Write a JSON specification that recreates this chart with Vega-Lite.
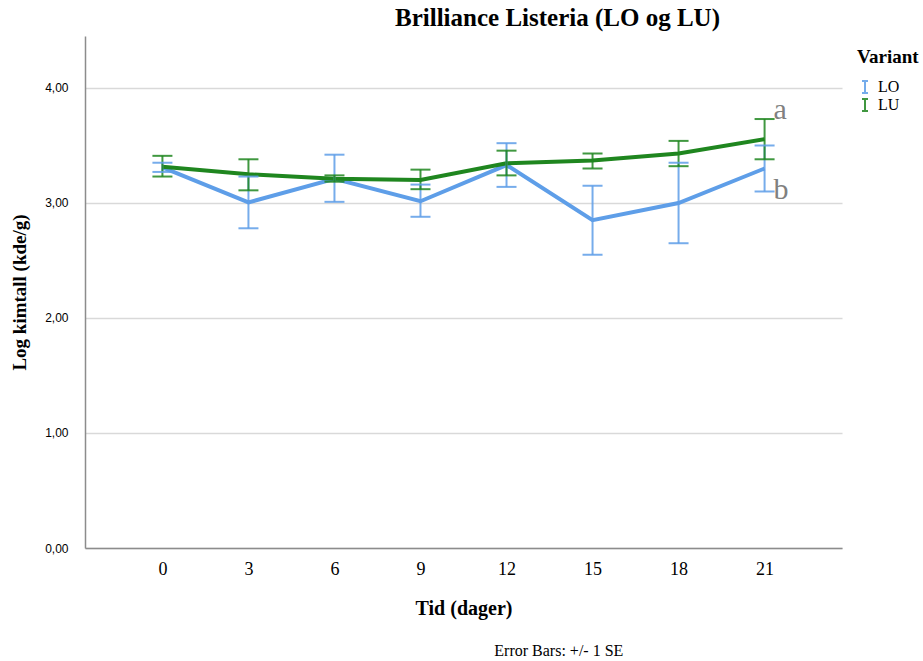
{
  "$schema": "https://vega.github.io/schema/vega-lite/v6.json",
  "background": "white",
  "padding": {"left": 10, "top": 6, "right": 0, "bottom": 0},
  "config": {
    "view": {"stroke": null},
    "font": "Liberation Serif",
    "title": {"font": "Liberation Serif"}
  },
  "title": {"text": "Error Bars: +/- 1 SE", "orient": "bottom", "anchor": "middle", "fontSize": 16, "fontWeight": "normal", "color": "#000000", "offset": 25, "dx": 88},
  "datasets": {
    "stats": [
      {"day": 0, "variant": "LO", "mean": 3.31, "lo": 3.27, "hi": 3.35, "sig": ""},
      {"day": 3, "variant": "LO", "mean": 3.005, "lo": 2.78, "hi": 3.23, "sig": ""},
      {"day": 6, "variant": "LO", "mean": 3.21, "lo": 3.01, "hi": 3.42, "sig": ""},
      {"day": 9, "variant": "LO", "mean": 3.015, "lo": 2.88, "hi": 3.16, "sig": ""},
      {"day": 12, "variant": "LO", "mean": 3.33, "lo": 3.14, "hi": 3.52, "sig": ""},
      {"day": 15, "variant": "LO", "mean": 2.85, "lo": 2.55, "hi": 3.15, "sig": ""},
      {"day": 18, "variant": "LO", "mean": 3.0, "lo": 2.65, "hi": 3.35, "sig": ""},
      {"day": 21, "variant": "LO", "mean": 3.3, "lo": 3.1, "hi": 3.5, "sig": "b"},
      {"day": 0, "variant": "LU", "mean": 3.315, "lo": 3.23, "hi": 3.41, "sig": ""},
      {"day": 3, "variant": "LU", "mean": 3.25, "lo": 3.11, "hi": 3.38, "sig": ""},
      {"day": 6, "variant": "LU", "mean": 3.21, "lo": 3.185, "hi": 3.24, "sig": ""},
      {"day": 9, "variant": "LU", "mean": 3.2, "lo": 3.12, "hi": 3.29, "sig": ""},
      {"day": 12, "variant": "LU", "mean": 3.345, "lo": 3.24, "hi": 3.455, "sig": ""},
      {"day": 15, "variant": "LU", "mean": 3.37, "lo": 3.3, "hi": 3.43, "sig": ""},
      {"day": 18, "variant": "LU", "mean": 3.43, "lo": 3.32, "hi": 3.54, "sig": ""},
      {"day": 21, "variant": "LU", "mean": 3.555, "lo": 3.38, "hi": 3.73, "sig": "a"}
    ]
  },
  "vconcat": [
    {
      "width": 757,
      "height": 512,
      "title": {"text": "Brilliance Listeria (LO og LU)", "anchor": "middle", "fontSize": 25, "fontWeight": "bold", "color": "#000000", "offset": 5, "dx": 94},
      "data": {"name": "stats"},
      "encoding": {
        "x": {
          "field": "day", "type": "ordinal",
          "scale": {"type": "point", "padding": 0.9},
          "axis": {
            "title": "Tid (dager)", "titleFont": "Liberation Serif", "titleFontSize": 20, "titleFontWeight": "bold", "titleColor": "#000000", "titlePadding": 20,
            "labelFont": "Liberation Serif", "labelFontSize": 18, "labelColor": "#000000", "labelAngle": 0, "labelPadding": 12,
            "ticks": false, "domainColor": "#8c8c8c", "domainWidth": 1.5, "grid": false
          }
        }
      },
      "layer": [
        {
          "mark": {"type": "line", "strokeWidth": 4, "strokeCap": "butt"},
          "encoding": {
            "y": {
              "field": "mean", "type": "quantitative",
              "scale": {"domain": [0, 4.452], "nice": false, "zero": true},
              "axis": {
                "title": "Log kimtall (kde/g)", "titleFont": "Liberation Serif", "titleFontSize": 19, "titleFontWeight": "bold", "titleColor": "#000000", "titlePadding": 15,
                "values": [0, 1, 2, 3, 4],
                "labelExpr": "replace(format(datum.value, '.2f'), '.', ',')",
                "labelFont": "Liberation Sans", "labelFontSize": 12, "labelColor": "#000000", "labelPadding": 17,
                "ticks": false, "domainColor": "#8c8c8c", "domainWidth": 1.5,
                "grid": true, "gridColor": "#d9d9d9", "gridWidth": 1.5
              }
            },
            "color": {
              "field": "variant", "type": "nominal",
              "scale": {"domain": ["LO", "LU"], "range": ["#5e9ee8", "#1f861f"]},
              "legend": {
                "title": "Variant", "orient": "right", "offset": 3, "padding": 12,
                "titleFont": "Liberation Serif", "titleFontSize": 19, "titleFontWeight": "bold", "titleColor": "#000000", "titlePadding": 12,
                "labelFont": "Liberation Serif", "labelFontSize": 16, "labelColor": "#000000", "labelOffset": 5,
                "symbolType": "M-0.5,-1H0.5M0,-1V1M-0.5,1H0.5", "symbolSize": 144, "symbolStrokeWidth": 2, "symbolFillColor": "transparent",
                "rowPadding": -4
              }
            },
            "detail": {"field": "variant"}
          }
        },
        {
          "mark": {"type": "rule", "strokeWidth": 2, "opacity": 0.85},
          "encoding": {
            "y": {"field": "lo", "type": "quantitative"},
            "y2": {"field": "hi"},
            "color": {"field": "variant", "type": "nominal"}
          }
        },
        {
          "mark": {"type": "tick", "thickness": 2, "size": 20, "opacity": 0.85},
          "encoding": {
            "y": {"field": "lo", "type": "quantitative"},
            "color": {"field": "variant", "type": "nominal"}
          }
        },
        {
          "mark": {"type": "tick", "thickness": 2, "size": 20, "opacity": 0.85},
          "encoding": {
            "y": {"field": "hi", "type": "quantitative"},
            "color": {"field": "variant", "type": "nominal"}
          }
        },
        {
          "transform": [{"filter": "datum.sig == 'a'"}],
          "mark": {"type": "text", "align": "left", "baseline": "alphabetic", "dx": 9, "dy": 0, "fontSize": 30, "font": "Liberation Serif", "color": "#808080"},
          "encoding": {
            "y": {"field": "hi", "type": "quantitative"},
            "text": {"field": "sig"}
          }
        },
        {
          "transform": [{"filter": "datum.sig == 'b'"}],
          "mark": {"type": "text", "align": "left", "baseline": "alphabetic", "dx": 9, "dy": 8, "fontSize": 30, "font": "Liberation Serif", "color": "#808080"},
          "encoding": {
            "y": {"field": "lo", "type": "quantitative"},
            "text": {"field": "sig"}
          }
        }
      ]
    }
  ]
}
